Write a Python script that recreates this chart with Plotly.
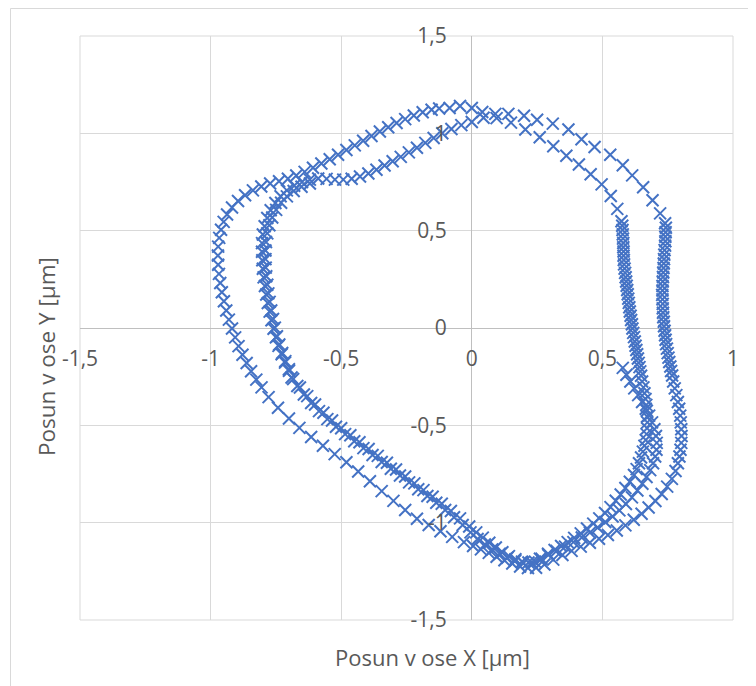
import plotly.graph_objects as go

# ---------------- data (µm) ----------------
outer_x = [
    -0.085, -0.045, 0.000, 0.040, 0.090, 0.140, 0.200, 0.250, 0.310, 0.370, 0.420, 0.470, 0.530, 0.578, 0.614, 0.656, 0.692, 0.721, 0.740,
    0.743, 0.742, 0.741, 0.741, 0.740, 0.738, 0.737, 0.736, 0.735, 0.734, 0.733, 0.732, 0.731, 0.730, 0.730, 0.729, 0.730, 0.731, 0.731, 0.732,
    0.733, 0.735, 0.736, 0.738, 0.740, 0.742, 0.744, 0.747, 0.750, 0.753, 0.756, 0.760, 0.763, 0.767,
    0.771, 0.777, 0.783, 0.789, 0.794, 0.798, 0.800, 0.802, 0.803, 0.802, 0.799, 0.795, 0.789,
    0.780, 0.766, 0.748, 0.727, 0.703, 0.677, 0.650, 0.620, 0.588, 0.555, 0.521, 0.487, 0.452, 0.417, 0.382, 0.347, 0.312, 0.278, 0.246, 0.215,
    0.185, 0.155, 0.125, 0.095, 0.065, 0.035, 0.005,
    -0.030, -0.075, -0.120, -0.165, -0.210, -0.255, -0.300, -0.345, -0.390, -0.435, -0.480, -0.525, -0.570, -0.615, -0.660, -0.700, -0.742, -0.778,
    -0.805, -0.825, -0.845, -0.862, -0.878, -0.893, -0.906, -0.918, -0.930, -0.940, -0.949, -0.957, -0.963, -0.968, -0.971, -0.972, -0.971, -0.967, -0.960, -0.950,
    -0.937, -0.918, -0.895, -0.868, -0.838, -0.806, -0.772, -0.738, -0.704, -0.672, -0.640, -0.608, -0.576, -0.544, -0.512, -0.480, -0.448, -0.416, -0.384, -0.352,
    -0.320, -0.288, -0.255, -0.222, -0.188, -0.154, -0.125,
]
outer_y = [
    1.130, 1.140, 1.130, 1.110, 1.100, 1.100, 1.090, 1.070, 1.050, 1.020, 0.970, 0.930, 0.890, 0.836, 0.784, 0.723, 0.656, 0.589, 0.538,
    0.515, 0.492, 0.469, 0.446, 0.423, 0.400, 0.377, 0.354, 0.331, 0.308, 0.285, 0.262, 0.239, 0.216, 0.193, 0.170, 0.147, 0.124, 0.101, 0.078,
    0.055, 0.032, 0.009, -0.014, -0.037, -0.060, -0.083, -0.106, -0.129, -0.152, -0.175, -0.198, -0.221, -0.244,
    -0.275, -0.310, -0.345, -0.380, -0.415, -0.450, -0.485, -0.520, -0.555, -0.590, -0.625, -0.660, -0.695,
    -0.735, -0.775, -0.815, -0.853, -0.889, -0.922, -0.954, -0.985, -1.014, -1.040, -1.063, -1.083, -1.103, -1.123, -1.145, -1.166, -1.190, -1.215, -1.232, -1.233,
    -1.225, -1.210, -1.193, -1.175, -1.155, -1.137, -1.120,
    -1.100, -1.073, -1.044, -1.012, -0.980, -0.935, -0.888, -0.838, -0.787, -0.737, -0.690, -0.648, -0.605, -0.560, -0.513, -0.465, -0.410, -0.355,
    -0.305, -0.265, -0.222, -0.180, -0.137, -0.093, -0.048, -0.003, 0.043, 0.090, 0.137, 0.184, 0.231, 0.278, 0.325, 0.372, 0.418, 0.463, 0.505, 0.545,
    0.583, 0.619, 0.652, 0.682, 0.707, 0.727, 0.742, 0.754, 0.767, 0.783, 0.802, 0.823, 0.845, 0.867, 0.890, 0.914, 0.938, 0.962, 0.986, 1.009,
    1.031, 1.053, 1.073, 1.092, 1.108, 1.121, 1.128,
]

inner_x = [
    -0.040, 0.000, 0.045, 0.095, 0.150, 0.205, 0.260, 0.312, 0.362, 0.410, 0.455, 0.497, 0.532, 0.557, 0.573,
    0.576, 0.577, 0.578, 0.579, 0.580, 0.580, 0.581, 0.581, 0.582, 0.583, 0.585, 0.587, 0.589, 0.591, 0.593, 0.595, 0.597, 0.599,
    0.601, 0.603, 0.605, 0.608, 0.610, 0.613, 0.615, 0.618, 0.621, 0.624, 0.627, 0.630, 0.633, 0.636, 0.639, 0.642, 0.645, 0.648,
    0.652, 0.657, 0.661, 0.665, 0.668, 0.670, 0.671, 0.672, 0.671, 0.669, 0.666, 0.661, 0.655, 0.648, 0.640, 0.631, 0.621,
    0.605, 0.588, 0.570, 0.551, 0.531, 0.510, 0.488, 0.465, 0.441, 0.417, 0.392, 0.367, 0.342, 0.317, 0.292, 0.267, 0.242, 0.217,
    0.192, 0.167, 0.142, 0.117, 0.092, 0.067, 0.042, 0.017,
    -0.010, -0.045, -0.080, -0.115, -0.150, -0.185, -0.220, -0.255, -0.290, -0.325, -0.360, -0.395, -0.430, -0.465, -0.500, -0.535,
    -0.568, -0.600, -0.630, -0.658, -0.684,
    -0.700, -0.715, -0.728, -0.740, -0.750, -0.759, -0.767, -0.774, -0.781, -0.787, -0.792, -0.797, -0.800, -0.802, -0.803, -0.803,
    -0.800, -0.793, -0.783, -0.770,
    -0.752, -0.732, -0.708, -0.680, -0.650, -0.620, -0.588, -0.556, -0.524, -0.492, -0.460, -0.428, -0.396, -0.365, -0.334, -0.303,
    -0.272, -0.241, -0.210, -0.178, -0.146, -0.113, -0.078,
]
inner_y = [
    1.042, 1.058, 1.080, 1.078, 1.055, 1.020, 0.980, 0.934, 0.885, 0.840, 0.790, 0.738, 0.678, 0.612, 0.548,
    0.525, 0.503, 0.481, 0.459, 0.437, 0.415, 0.393, 0.371, 0.349, 0.327, 0.305, 0.283, 0.261, 0.239, 0.217, 0.195, 0.173, 0.151,
    0.129, 0.107, 0.085, 0.063, 0.041, 0.019, -0.003, -0.025, -0.047, -0.069, -0.091, -0.113, -0.135, -0.157, -0.179, -0.201, -0.223, -0.245,
    -0.275, -0.305, -0.335, -0.365, -0.395, -0.425, -0.455, -0.485, -0.515, -0.545, -0.575, -0.605, -0.635, -0.665, -0.695, -0.725, -0.755,
    -0.790, -0.822, -0.855, -0.887, -0.920, -0.950, -0.978, -1.005, -1.030, -1.055, -1.078, -1.100, -1.120, -1.140, -1.160, -1.185, -1.200, -1.205,
    -1.200, -1.188, -1.172, -1.152, -1.128, -1.103, -1.077, -1.050,
    -1.020, -0.978, -0.940, -0.903, -0.867, -0.833, -0.798, -0.763, -0.727, -0.692, -0.657, -0.622, -0.587, -0.551, -0.515, -0.475,
    -0.435, -0.393, -0.350, -0.306, -0.262,
    -0.220, -0.178, -0.135, -0.092, -0.048, -0.004, 0.040, 0.084, 0.128, 0.172, 0.216, 0.260, 0.304, 0.348, 0.392, 0.436,
    0.480, 0.523, 0.565, 0.605,
    0.642, 0.677, 0.707, 0.731, 0.750, 0.762, 0.768, 0.766, 0.762, 0.762, 0.767, 0.778, 0.794, 0.813, 0.835, 0.857,
    0.879, 0.902, 0.926, 0.951, 0.976, 1.000, 1.022,
]

extra_x = [
    0.578, 0.592, 0.607, 0.622, 0.637, 0.652, 0.666, 0.679, 0.690, 0.699, 0.705, 0.708, 0.707, 0.702, 0.694, 0.683, 0.669, 0.653, 0.634, 0.613,
    0.590, 0.565, 0.539, 0.511, 0.482, 0.452, 0.421, 0.389, 0.357, 0.325, 0.293, 0.261, 0.229, 0.197, 0.166, 0.136, 0.107, 0.078, 0.050, 0.022,
    -0.005, -0.035, -0.068, -0.102, -0.136, -0.170, -0.205, -0.240, -0.275, -0.310, -0.345, -0.380, -0.415, -0.450, -0.485, -0.520,
    -0.553, -0.585, -0.615, -0.643, -0.668, -0.690,
    -0.700, -0.714, -0.726, -0.737, -0.746, -0.754, -0.761, -0.768, -0.774, -0.779, -0.783, -0.787, -0.789, -0.790, -0.790, -0.788,
    -0.783, -0.775, -0.764, -0.749, -0.730, -0.708, -0.682, -0.652, -0.620,
]
extra_y = [
    -0.205, -0.240, -0.275, -0.310, -0.345, -0.380, -0.415, -0.450, -0.485, -0.520, -0.555, -0.590, -0.625, -0.660, -0.695, -0.730, -0.765, -0.800, -0.835, -0.870,
    -0.904, -0.937, -0.968, -0.997, -1.025, -1.051, -1.076, -1.100, -1.123, -1.145, -1.166, -1.185, -1.205, -1.206, -1.196, -1.180, -1.160, -1.138, -1.112, -1.084,
    -1.050, -1.012, -0.972, -0.935, -0.898, -0.863, -0.828, -0.793, -0.758, -0.723, -0.688, -0.652, -0.617, -0.582, -0.545, -0.507,
    -0.468, -0.427, -0.385, -0.342, -0.298, -0.254,
    -0.212, -0.170, -0.128, -0.085, -0.042, 0.002, 0.046, 0.090, 0.134, 0.178, 0.222, 0.266, 0.310, 0.354, 0.398, 0.442,
    0.486, 0.528, 0.568, 0.607, 0.643, 0.676, 0.704, 0.726, 0.742,
]

x_tick_vals = [-1.5, -1, -0.5, 0, 0.5, 1]
x_tick_text = ["-1,5", "-1", "-0,5", "0", "0,5", "1"]
y_tick_vals = [-1.5, -1, -0.5, 0, 0.5, 1, 1.5]
y_tick_text = ["-1,5", "-1", "-0,5", "0", "0,5", "1", "1,5"]
x_title = "Posun v ose X [µm]"
y_title = "Posun v ose Y [µm]"

# ---------------- layout geometry ----------------
# the page body keeps its default 8 px margin, so the figure starts at (8, 8)
OFF = 8
W, H = 756 - OFF, 686 - OFF
L, T = 80 - OFF, 36 - OFF
R = W - (733 - OFF)
B = H - (620 - OFF)
PW, PH = W - L - R, H - T - B


def px_x(p):
    """page pixel x -> paper fraction"""
    return (p - OFF - L) / PW


def px_y(p):
    """page pixel y -> paper fraction"""
    return (H - B - (p - OFF)) / PH


FONT = "Open Sans"
TXT = "#595959"
BLUE = "#4472C4"
GRID = "#D9D9D9"

fig = go.Figure(
    go.Scatter(
        x=outer_x + inner_x + extra_x,
        y=outer_y + inner_y + extra_y,
        mode="markers",
        marker=dict(symbol="x-thin", size=12, color=BLUE, line=dict(width=2, color=BLUE)),
        hoverinfo="skip",
    )
)

axis_common = dict(
    showgrid=True,
    gridcolor=GRID,
    gridwidth=1,
    zeroline=True,
    zerolinecolor="#BFBFBF",
    zerolinewidth=1,
    showline=False,
    ticks="",
    anchor="free",
    tickfont=dict(family=FONT, size=21, color=TXT),
    fixedrange=True,
)

fig.update_layout(
    width=W,
    height=H,
    margin=dict(l=L, r=R, t=T, b=B, pad=0),
    paper_bgcolor="white",
    plot_bgcolor="white",
    showlegend=False,
    xaxis=dict(
        range=[-1.5, 1],
        tickmode="array",
        tickvals=x_tick_vals,
        ticktext=x_tick_text,
        position=0.5,
        ticklabelstandoff=16,
        **axis_common,
    ),
    yaxis=dict(
        range=[-1.5, 1.5],
        tickmode="array",
        tickvals=y_tick_vals,
        ticktext=y_tick_text,
        position=0.6,
        ticklabelstandoff=25,
        **axis_common,
    ),
    annotations=[
        dict(text=x_title, x=px_x(432), y=px_y(657), xref="paper", yref="paper",
             showarrow=False, xanchor="center", yanchor="middle",
             font=dict(family=FONT, size=22, color=TXT)),
        dict(text=y_title, x=px_x(47), y=px_y(357), xref="paper", yref="paper",
             showarrow=False, xanchor="center", yanchor="middle", textangle=-90,
             font=dict(family=FONT, size=22.5, color=TXT)),
    ],
    shapes=[
        # plot-area frame (edge gridlines)
        dict(type="rect", xref="paper", yref="paper", x0=0, x1=1, y0=0, y1=1,
             line=dict(color=GRID, width=1), layer="below"),
        # chart-area border (left and top edges visible)
        dict(type="line", xref="paper", yref="paper", x0=px_x(10.5), x1=px_x(10.5),
             y0=px_y(700), y1=px_y(8.5), line=dict(color=GRID, width=1)),
        dict(type="line", xref="paper", yref="paper", x0=px_x(10.5), x1=px_x(770),
             y0=px_y(8.5), y1=px_y(8.5), line=dict(color=GRID, width=1)),
    ],
)

fig.write_html("out.html")
